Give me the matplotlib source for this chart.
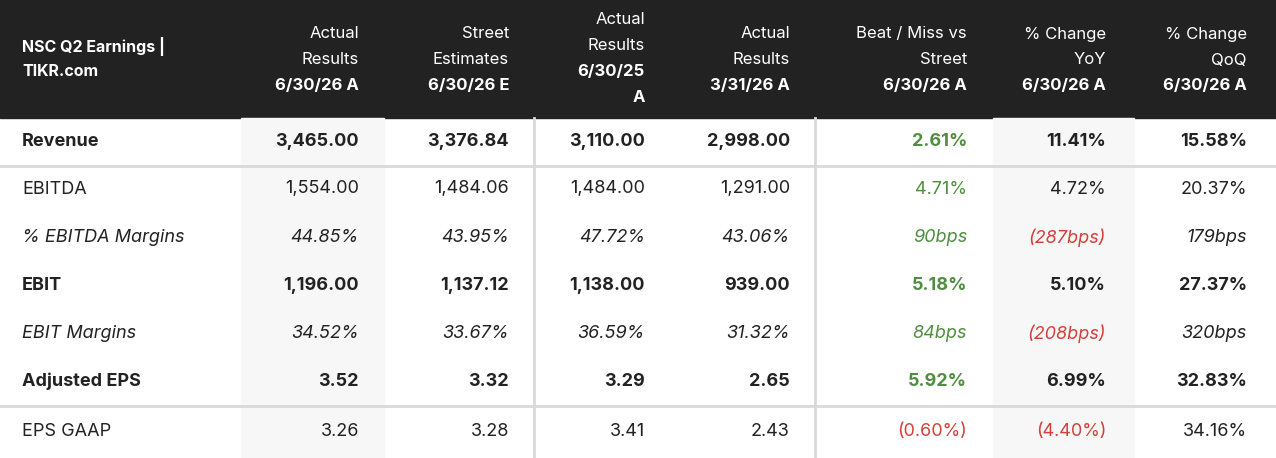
import matplotlib
matplotlib.use("Agg")
import matplotlib.pyplot as plt
from matplotlib.patches import Rectangle

plt.rcParams['font.family'] = ['Inter', 'DejaVu Sans']

title_lines = ["NSC Q2 Earnings |", "TIKR.com"]
headers = [
    ["Actual", "Results", "6/30/26 A"],
    ["Street", "Estimates", "6/30/26 E"],
    ["Actual", "Results", "6/30/25", "A"],
    ["Actual", "Results", "3/31/26 A"],
    ["Beat / Miss vs", "Street", "6/30/26 A"],
    ["% Change", "YoY", "6/30/26 A"],
    ["% Change", "QoQ", "6/30/26 A"],
]
rows = ["Revenue", "EBITDA", "% EBITDA Margins", "EBIT", "EBIT Margins", "Adjusted EPS", "EPS GAAP"]
styles = ["bold", "normal", "italic", "bold", "italic", "bold", "normal"]
values = [
    ["3,465.00", "3,376.84", "3,110.00", "2,998.00", "2.61%", "11.41%", "15.58%"],
    ["1,554.00", "1,484.06", "1,484.00", "1,291.00", "4.71%", "4.72%", "20.37%"],
    ["44.85%", "43.95%", "47.72%", "43.06%", "90bps", "(287bps)", "179bps"],
    ["1,196.00", "1,137.12", "1,138.00", "939.00", "5.18%", "5.10%", "27.37%"],
    ["34.52%", "33.67%", "36.59%", "31.32%", "84bps", "(208bps)", "320bps"],
    ["3.52", "3.32", "3.29", "2.65", "5.92%", "6.99%", "32.83%"],
    ["3.26", "3.28", "3.41", "2.43", "(0.60%)", "(4.40%)", "34.16%"],
]

W, H = 1276, 458
fig = plt.figure(figsize=(W/100, H/100), dpi=100)
ax = fig.add_axes([0, 0, 1, 1])
ax.set_xlim(0, W); ax.set_ylim(H, 0); ax.axis('off')

TXT = '#222222'; GREEN = '#4f8f3f'; RED = '#d6403a'
ax.add_patch(Rectangle((0, 0), W, 118, color='#222222', zorder=0))
ax.add_patch(Rectangle((241, 118), 143, H-118, color='#f7f7f7', zorder=0))
ax.add_patch(Rectangle((993, 118), 141, H-118, color='#f7f7f7', zorder=0))
for y in (166, 406):
    ax.plot([0, W], [y, y], color='#d9d9d9', lw=2, zorder=1)
for x in (534, 815):
    ax.plot([x, x], [118, H], color='#d9d9d9', lw=2, zorder=1)

fs = 13
ax.text(22, 47, title_lines[0], color='white', fontsize=11.5, weight='bold', va='center')
ax.text(22, 72, title_lines[1], color='white', fontsize=11.5, weight='bold', va='center')

col_x = [359, 509, 645, 790, 967, 1106, 1247]
for cx, h in zip(col_x, headers):
    ys = [20, 46, 72, 98] if len(h) == 4 else [34, 60, 85]
    for i, (t, y) in enumerate(zip(h, ys)):
        bold = (i >= 2)
        ax.text(cx, y, t, color='white', fontsize=12, ha='right', va='center',
                weight='bold' if bold else 'normal')

row_y = [141, 189, 238, 286, 334, 381, 431]
for r, (name, st, vals, y) in enumerate(zip(rows, styles, values, row_y)):
    kw = dict(fontsize=fs, va='center',
              weight='bold' if st == 'bold' else 'normal',
              style='italic' if st == 'italic' else 'normal')
    ax.text(22, y, name, color=TXT, ha='left', **kw)
    for c, (v, cx) in enumerate(zip(vals, col_x)):
        col = TXT
        if c == 4:
            col = RED if v.startswith('(') else GREEN
        elif c == 5 and v.startswith('('):
            col = RED
        ax.text(cx, y, v, color=col, ha='right', **kw)

fig.savefig('out.png', dpi=100)
